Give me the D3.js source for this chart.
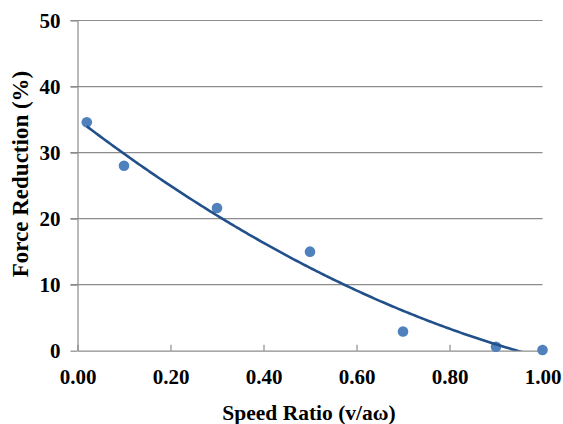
<!DOCTYPE html>
<html><head><meta charset="utf-8">
<script src="https://cdn.jsdelivr.net/npm/d3@7"></script>
<style>body{margin:0;background:#fff}svg{display:block}</style>
</head><body>
<script>
const speedRatio = [0.02, 0.10, 0.30, 0.50, 0.70, 0.90, 1.00];
const forceReduction = [34.6, 28.0, 21.6, 15.0, 2.9, 0.6, 0.1];
const xTicks = [0, 0.2, 0.4, 0.6, 0.8, 1.0];
const yTicks = [0, 10, 20, 30, 40, 50];
const xTitle = "Speed Ratio (v/aω)";
const yTitle = "Force Reduction (%)";

const W = 563, H = 424;
const m = {left: 77.5, right: 20.5, top: 20.5, bottom: 73.3};
const svg = d3.select("body").append("svg").attr("width", W).attr("height", H);
const x = d3.scaleLinear().domain([0, 1]).range([m.left, W - m.right]);
const y = d3.scaleLinear().domain([0, 50]).range([H - m.bottom, m.top]);
const font = "'Liberation Serif','Times New Roman',serif";

// gridlines
svg.append("g").selectAll("line").data(yTicks.filter(d => d > 0)).join("line")
  .attr("x1", m.left - 7).attr("x2", W - m.right)
  .attr("y1", d => y(d)).attr("y2", d => y(d))
  .attr("stroke", "#8c8c8c").attr("stroke-width", 1.2);

// y axis
const ya = svg.append("g").attr("transform", `translate(${m.left},0)`)
  .call(d3.axisLeft(y).tickValues(yTicks).tickSize(7).tickSizeOuter(0).tickPadding(10).tickFormat(d3.format("d")));
ya.select(".domain").attr("stroke", "#8c8c8c").attr("stroke-width", 1.2);
ya.selectAll(".tick line").attr("stroke", "#8c8c8c").attr("stroke-width", 1.2);
ya.selectAll("text").attr("font-family", font).attr("font-weight", "bold").attr("font-size", 21).attr("fill", "#000");

// x axis
const xa = svg.append("g").attr("transform", `translate(0,${y(0)})`)
  .call(d3.axisBottom(x).tickValues(xTicks).tickSize(-6).tickSizeOuter(0).tickPadding(18).tickFormat(d3.format(".2f")));
xa.select(".domain").attr("stroke", "#8c8c8c").attr("stroke-width", 1.2);
xa.selectAll(".tick line").attr("stroke", "#8c8c8c").attr("stroke-width", 1.2);
xa.selectAll("text").attr("font-family", font).attr("font-weight", "bold").attr("font-size", 21).attr("fill", "#000");

// quadratic trendline (least squares fit of the data)
function polyfit2(xs, ys) {
  let S = [0,0,0,0,0], T = [0,0,0];
  xs.forEach((xi, i) => {
    for (let k = 0; k < 5; k++) S[k] += Math.pow(xi, k);
    for (let k = 0; k < 3; k++) T[k] += ys[i] * Math.pow(xi, k);
  });
  const A = [[S[0],S[1],S[2],T[0]],[S[1],S[2],S[3],T[1]],[S[2],S[3],S[4],T[2]]];
  for (let i = 0; i < 3; i++) {
    for (let j = i + 1; j < 3; j++) {
      const f = A[j][i] / A[i][i];
      for (let k = i; k < 4; k++) A[j][k] -= f * A[i][k];
    }
  }
  const c = [0,0,0];
  for (let i = 2; i >= 0; i--) {
    let s = A[i][3];
    for (let k = i + 1; k < 3; k++) s -= A[i][k] * c[k];
    c[i] = s / A[i][i];
  }
  return c;
}
const c = polyfit2(speedRatio, forceReduction);
const trend = d3.range(0, 201).map(i => {
  const xv = speedRatio[0] + (speedRatio[speedRatio.length-1] - speedRatio[0]) * i / 200;
  return [xv, c[0] + c[1]*xv + c[2]*xv*xv];
});
svg.append("clipPath").attr("id", "clip").append("rect")
  .attr("x", m.left).attr("y", m.top).attr("width", W - m.left - m.right).attr("height", y(0) - m.top);

// points
svg.append("g").selectAll("circle").data(speedRatio).join("circle")
  .attr("cx", d => x(d)).attr("cy", (d, i) => y(forceReduction[i])).attr("r", 5.3)
  .attr("fill", "#4f81bd");

svg.append("path").datum(trend).attr("clip-path", "url(#clip)")
  .attr("d", d3.line().x(d => x(d[0])).y(d => y(d[1])))
  .attr("fill", "none").attr("stroke", "#22508a").attr("stroke-width", 2.6);

// titles
svg.append("text").attr("x", 309).attr("y", 420)
  .attr("text-anchor", "middle").attr("font-family", font).attr("font-weight", "bold").attr("font-size", 21.5)
  .text(xTitle);
svg.append("text").attr("transform", `translate(28,174) rotate(-90)`)
  .attr("text-anchor", "middle").attr("font-family", font).attr("font-weight", "bold").attr("font-size", 23)
  .text(yTitle);
</script>
</body></html>
